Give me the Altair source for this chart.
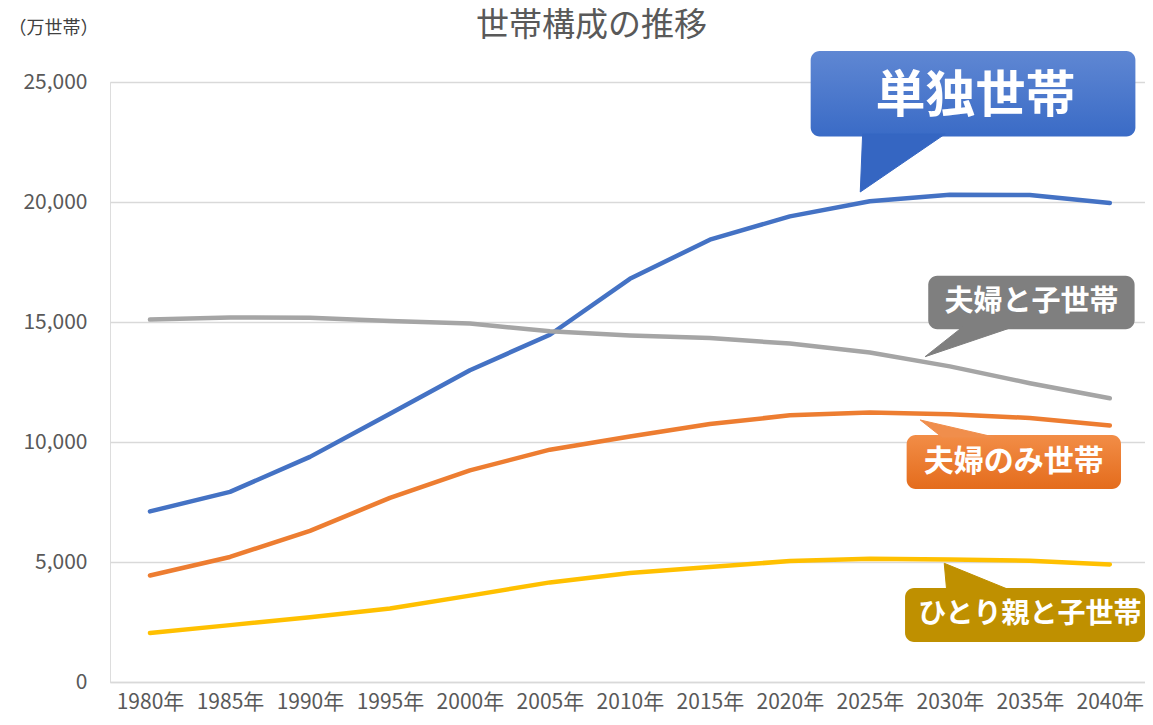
import altair as alt
import pandas as pd

# ---- data (万世帯) ----
years = [1980, 1985, 1990, 1995, 2000, 2005, 2010, 2015, 2020, 2025, 2030, 2035, 2040]
single = [7110, 7920, 9380, 11180, 12990, 14470, 16800, 18430, 19400, 20030, 20300, 20290, 19960]
couple_child = [15100, 15190, 15180, 15040, 14940, 14610, 14440, 14330, 14100, 13730, 13150, 12450, 11820]
couple_only = [4440, 5210, 6300, 7670, 8820, 9680, 10230, 10750, 11110, 11230, 11160, 11000, 10690]
single_parent = [2040, 2370, 2700, 3060, 3600, 4150, 4540, 4790, 5040, 5140, 5100, 5050, 4900]

series_names = ["単独世帯", "夫婦と子世帯", "夫婦のみ世帯", "ひとり親と子世帯"]
series_values = [single, couple_child, couple_only, single_parent]
series_colors = ["#4472C4", "#A5A5A5", "#ED7D31", "#FFC000"]
y_ticks = [0, 5000, 10000, 15000, 20000, 25000]
chart_title = "世帯構成の推移"
unit_label = "（万世帯）"

rows = []
for name, vals in zip(series_names, series_values):
    for yr, v in zip(years, vals):
        rows.append({"系列": name, "年": yr, "値": v})
df = pd.DataFrame(rows)

X_DOMAIN = [1977.5, 2042.2]
Y_DOMAIN = [0, 25000]

x_scale = alt.Scale(domain=X_DOMAIN, nice=False, zero=False)
y_scale = alt.Scale(domain=Y_DOMAIN, nice=False)
x_axis = alt.Axis(values=years, labelExpr="datum.value + '年'", grid=False,
                  domain=True, domainColor="#D9D9D9", domainWidth=1.5,
                  ticks=False, labelPadding=9, labelFontSize=21,
                  labelColor="#595959", labelFont="Noto Sans CJK JP",
                  title=None, labelOverlap=False)
y_axis = alt.Axis(values=y_ticks, labelExpr="format(datum.value, ',')", grid=True,
                  gridColor="#D9D9D9", gridWidth=1.5, domain=False, ticks=False,
                  labelPadding=23, labelFontSize=21, labelColor="#595959",
                  labelFont="Noto Sans CJK JP",
                  title=unit_label, titleAngle=0, titleAlign="left",
                  titleBaseline="middle", titleX=-102, titleY=-54,
                  titleFontSize=18, titleFontWeight="normal",
                  titleColor="#404040", titleFont="Noto Sans CJK JP")


def X(field="年"):
    return alt.X(f"{field}:Q", scale=x_scale, axis=x_axis, title=None)


def Y(field="値"):
    return alt.Y(f"{field}:Q", scale=y_scale, axis=y_axis, title=unit_label)


lines = alt.Chart(df).mark_line(strokeWidth=4.5, strokeCap="round", strokeJoin="round").encode(
    x=X(), y=Y(),
    color=alt.Color("系列:N", scale=alt.Scale(domain=series_names, range=series_colors), legend=None),
    order=alt.Order("年:Q"),
)


# ---- callout annotations (positions in data units: year, value) ----
def grad(top, bottom):
    return alt.LinearGradient(gradient="linear", x1=0, y1=0, x2=0, y2=1,
                              stops=[alt.GradientStop(color=top, offset=0),
                                     alt.GradientStop(color=bottom, offset=1)])


callouts = [
    dict(label="単独世帯", box=(2021.3, 2041.6, 26292, 22729), tip=(2024.4, 20417),
         base=(2024.55, 2029.7, 22833), text=(2031.6, 24375), size=50,
         top="#5F87D3", bottom="#3A6BC6", ptr="#3566C2"),
    dict(label="夫婦と子世帯", box=(2028.65, 2041.55, 16929, 14696), tip=(2028.45, 13554),
         base=(2030.8, 2033.95, 14792), text=(2035.1, 15833), size=29,
         top="#7F7F7F", bottom="#7F7F7F", ptr="#7F7F7F"),
    dict(label="夫婦のみ世帯", box=(2027.3, 2040.7, 10292, 8042), tip=(2028.15, 10917),
         base=(2029.5, 2032.75, 10208), text=(2034.0, 9167), size=30,
         top="#F28D47", bottom="#E46C1C", ptr="#F08E4C"),
    dict(label="ひとり親と子世帯", box=(2027.2, 2042.2, 3917, 1667), tip=(2029.65, 4946),
         base=(2029.8, 2033.75, 3833), text=(2035.0, 2792), size=28,
         top="#BF9000", bottom="#BF9000", ptr="#BF9000"),
]

layers = [lines]
for c in callouts:
    bx1, bx2, byt, byb = c["box"]
    box_df = pd.DataFrame([{"年": bx1, "年2": bx2, "値": byt, "値2": byb}])
    layers.append(alt.Chart(box_df).mark_rect(cornerRadius=9, fill=grad(c["top"], c["bottom"])).encode(
        x=X(), x2="年2:Q", y=Y(), y2="値2:Q"))
    tx, ty = c["tip"]
    bl, br, bby = c["base"]
    tri_df = pd.DataFrame([{"年": bl, "値": bby, "o": 0}, {"年": br, "値": bby, "o": 1},
                           {"年": tx, "値": ty, "o": 2}])
    layers.append(alt.Chart(tri_df).mark_line(fill=c["ptr"], stroke=c["ptr"], strokeWidth=1,
                                              interpolate="linear-closed").encode(
        x=X(), y=Y(), order="o:Q"))
    txt_df = pd.DataFrame([{"年": c["text"][0], "値": c["text"][1], "t": c["label"]}])
    layers.append(alt.Chart(txt_df).mark_text(color="white", fontWeight="bold",
                                              font="Noto Sans CJK JP", fontSize=c["size"],
                                              align="center", baseline="middle").encode(
        x=X(), y=Y(), text="t:N"))

# chart title, placed above the plot (data units)
title_df = pd.DataFrame([{"年": 2007.6, "値": 27330, "t": chart_title}])
layers.append(alt.Chart(title_df).mark_text(color="#595959", font="Noto Sans CJK JP",
                                            fontSize=33, align="center", baseline="middle").encode(
    x=X(), y=Y(), text="t:N"))

chart = alt.layer(*layers).properties(
    width=1035, height=600,
    autosize=alt.AutoSizeParams(type="none"),
    padding={"left": 102, "top": 74, "right": 0, "bottom": 35},
).configure_view(stroke=None).configure(background="white")

chart.save("out.html", embed_options={"renderer": "svg", "actions": False})
